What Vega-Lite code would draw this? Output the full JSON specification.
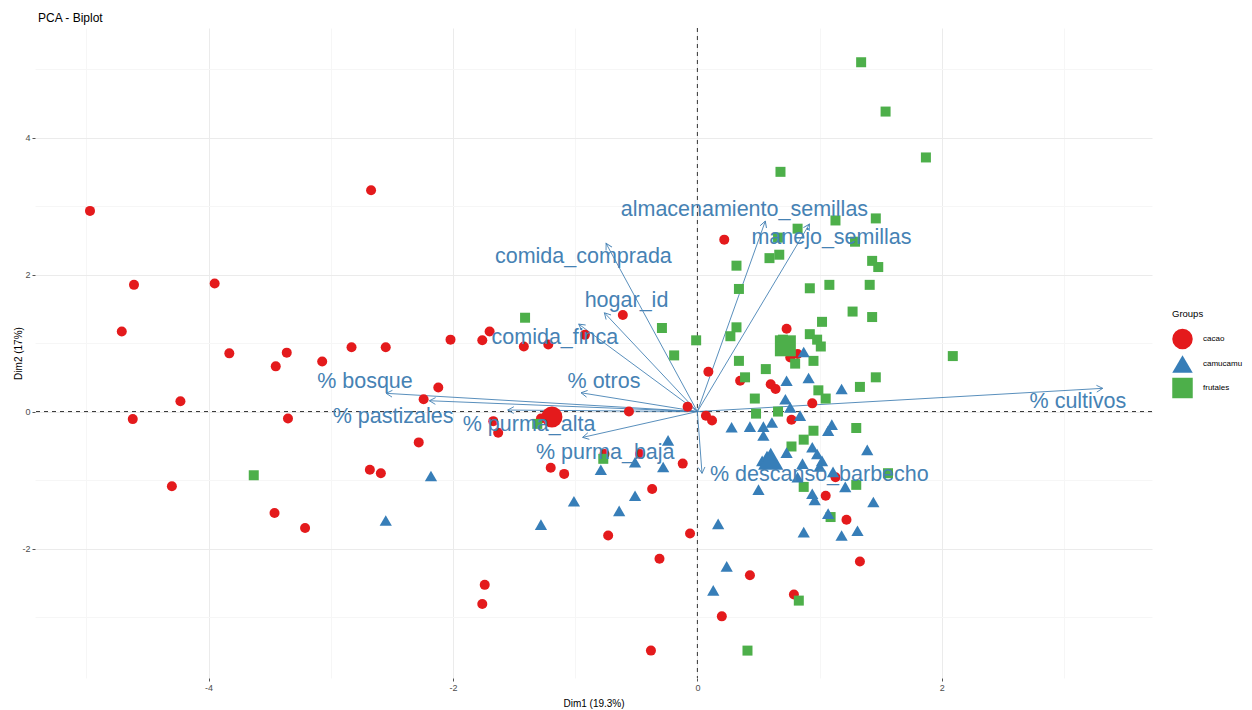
{
  "$schema": "https://vega.github.io/schema/vega-lite/v6.json",
  "autosize": {"type": "none"},
  "width": 1117,
  "height": 650,
  "padding": {"left": 35, "top": 28, "right": 100, "bottom": 32},
  "background": "white",
  "title": {"text": "PCA - Biplot", "anchor": "start", "frame": "group", "fontSize": 12, "fontWeight": "normal", "font": "Liberation Sans", "color": "#000000", "offset": 3, "dx": 3},
  "config": {
    "view": {"stroke": null},
    "font": "Liberation Sans",
    "axis": {"domain": false, "labelFont": "Liberation Sans", "titleFont": "Liberation Sans"}
  },
  "datasets": {
    "ind": [
      {"x": -4.97, "y": 2.93, "group": "cacao"},
      {"x": -2.67, "y": 3.23, "group": "cacao"},
      {"x": -4.61, "y": 1.85, "group": "cacao"},
      {"x": -3.95, "y": 1.87, "group": "cacao"},
      {"x": -4.71, "y": 1.17, "group": "cacao"},
      {"x": -3.83, "y": 0.85, "group": "cacao"},
      {"x": -3.45, "y": 0.66, "group": "cacao"},
      {"x": -3.36, "y": 0.86, "group": "cacao"},
      {"x": -3.07, "y": 0.73, "group": "cacao"},
      {"x": -2.83, "y": 0.94, "group": "cacao"},
      {"x": -2.55, "y": 0.94, "group": "cacao"},
      {"x": -2.02, "y": 1.05, "group": "cacao"},
      {"x": -2.12, "y": 0.35, "group": "cacao"},
      {"x": -2.24, "y": 0.18, "group": "cacao"},
      {"x": -4.23, "y": 0.15, "group": "cacao"},
      {"x": -4.62, "y": -0.11, "group": "cacao"},
      {"x": -3.35, "y": -0.10, "group": "cacao"},
      {"x": -2.28, "y": -0.45, "group": "cacao"},
      {"x": -2.68, "y": -0.85, "group": "cacao"},
      {"x": -2.59, "y": -0.90, "group": "cacao"},
      {"x": -4.30, "y": -1.09, "group": "cacao"},
      {"x": -3.46, "y": -1.48, "group": "cacao"},
      {"x": -3.21, "y": -1.70, "group": "cacao"},
      {"x": 0.22, "y": 2.51, "group": "cacao"},
      {"x": -0.61, "y": 1.41, "group": "cacao"},
      {"x": -1.70, "y": 1.17, "group": "cacao"},
      {"x": -1.76, "y": 1.04, "group": "cacao"},
      {"x": -1.42, "y": 0.95, "group": "cacao"},
      {"x": -1.22, "y": 0.98, "group": "cacao"},
      {"x": -0.92, "y": 1.12, "group": "cacao"},
      {"x": 0.09, "y": 0.58, "group": "cacao"},
      {"x": -0.08, "y": 0.07, "group": "cacao"},
      {"x": -0.56, "y": 0.00, "group": "cacao"},
      {"x": -1.63, "y": -0.31, "group": "cacao"},
      {"x": -1.67, "y": -0.14, "group": "cacao"},
      {"x": 0.07, "y": -0.06, "group": "cacao"},
      {"x": 0.12, "y": -0.13, "group": "cacao"},
      {"x": -0.76, "y": -0.62, "group": "cacao"},
      {"x": -0.47, "y": -0.62, "group": "cacao"},
      {"x": -0.12, "y": -0.76, "group": "cacao"},
      {"x": -1.20, "y": -0.82, "group": "cacao"},
      {"x": -1.09, "y": -0.91, "group": "cacao"},
      {"x": -0.37, "y": -1.13, "group": "cacao"},
      {"x": -0.73, "y": -1.81, "group": "cacao"},
      {"x": -0.06, "y": -1.78, "group": "cacao"},
      {"x": -0.31, "y": -2.15, "group": "cacao"},
      {"x": -1.74, "y": -2.53, "group": "cacao"},
      {"x": -1.76, "y": -2.81, "group": "cacao"},
      {"x": -0.38, "y": -3.49, "group": "cacao"},
      {"x": 0.43, "y": -2.39, "group": "cacao"},
      {"x": 0.79, "y": -2.67, "group": "cacao"},
      {"x": 0.20, "y": -2.99, "group": "cacao"},
      {"x": 1.05, "y": -1.23, "group": "cacao"},
      {"x": 1.22, "y": -1.58, "group": "cacao"},
      {"x": 1.33, "y": -2.19, "group": "cacao"},
      {"x": 1.13, "y": -0.96, "group": "cacao"},
      {"x": 0.73, "y": 1.21, "group": "cacao"},
      {"x": 0.76, "y": 0.79, "group": "cacao"},
      {"x": 0.82, "y": 0.84, "group": "cacao"},
      {"x": 0.35, "y": 0.45, "group": "cacao"},
      {"x": 0.60, "y": 0.40, "group": "cacao"},
      {"x": 0.64, "y": 0.33, "group": "cacao"},
      {"x": 0.94, "y": 0.12, "group": "cacao"},
      {"x": 0.77, "y": -0.12, "group": "cacao"},
      {"x": -1.28, "y": -0.10, "group": "cacao"},
      {"x": -2.18, "y": -0.94, "group": "camucamu"},
      {"x": -2.55, "y": -1.59, "group": "camucamu"},
      {"x": 0.28, "y": -0.23, "group": "camucamu"},
      {"x": -0.24, "y": -0.42, "group": "camucamu"},
      {"x": -0.79, "y": -0.85, "group": "camucamu"},
      {"x": -0.51, "y": -0.74, "group": "camucamu"},
      {"x": -0.28, "y": -0.81, "group": "camucamu"},
      {"x": -1.01, "y": -1.31, "group": "camucamu"},
      {"x": -0.51, "y": -1.23, "group": "camucamu"},
      {"x": -0.64, "y": -1.45, "group": "camucamu"},
      {"x": -1.28, "y": -1.65, "group": "camucamu"},
      {"x": 0.17, "y": -1.64, "group": "camucamu"},
      {"x": 0.24, "y": -2.26, "group": "camucamu"},
      {"x": 0.13, "y": -2.61, "group": "camucamu"},
      {"x": 0.87, "y": -1.76, "group": "camucamu"},
      {"x": 1.18, "y": -1.81, "group": "camucamu"},
      {"x": 1.31, "y": -1.74, "group": "camucamu"},
      {"x": 1.44, "y": -1.32, "group": "camucamu"},
      {"x": 1.39, "y": -0.56, "group": "camucamu"},
      {"x": 0.73, "y": 0.45, "group": "camucamu"},
      {"x": 0.91, "y": 0.49, "group": "camucamu"},
      {"x": 0.87, "y": 0.87, "group": "camucamu"},
      {"x": 1.18, "y": 0.33, "group": "camucamu"},
      {"x": 0.72, "y": 0.18, "group": "camucamu"},
      {"x": 0.76, "y": 0.06, "group": "camucamu"},
      {"x": 0.84, "y": -0.06, "group": "camucamu"},
      {"x": 0.43, "y": -0.22, "group": "camucamu"},
      {"x": 0.54, "y": -0.22, "group": "camucamu"},
      {"x": 0.61, "y": -0.16, "group": "camucamu"},
      {"x": 0.54, "y": -0.35, "group": "camucamu"},
      {"x": 1.07, "y": -0.28, "group": "camucamu"},
      {"x": 1.10, "y": -0.19, "group": "camucamu"},
      {"x": 0.73, "y": -0.60, "group": "camucamu"},
      {"x": 0.94, "y": -0.52, "group": "camucamu"},
      {"x": 0.98, "y": -0.62, "group": "camucamu"},
      {"x": 0.53, "y": -0.72, "group": "camucamu"},
      {"x": 0.62, "y": -0.76, "group": "camucamu"},
      {"x": 0.86, "y": -0.76, "group": "camucamu"},
      {"x": 1.02, "y": -0.72, "group": "camucamu"},
      {"x": 1.11, "y": -0.88, "group": "camucamu"},
      {"x": 0.82, "y": -0.96, "group": "camucamu"},
      {"x": 1.21, "y": -1.10, "group": "camucamu"},
      {"x": 0.50, "y": -1.14, "group": "camucamu"},
      {"x": 0.94, "y": -1.20, "group": "camucamu"},
      {"x": 0.96, "y": -1.29, "group": "camucamu"},
      {"x": 1.07, "y": -1.49, "group": "camucamu"},
      {"x": 1.00, "y": -0.80, "group": "camucamu"},
      {"x": 0.57, "y": -0.65, "group": "camucamu"},
      {"x": -3.63, "y": -0.93, "group": "frutales"},
      {"x": -1.41, "y": 1.37, "group": "frutales"},
      {"x": -0.29, "y": 1.22, "group": "frutales"},
      {"x": -0.01, "y": 1.04, "group": "frutales"},
      {"x": -0.19, "y": 0.82, "group": "frutales"},
      {"x": 0.32, "y": 2.13, "group": "frutales"},
      {"x": 0.34, "y": 1.79, "group": "frutales"},
      {"x": 0.32, "y": 1.23, "group": "frutales"},
      {"x": 0.27, "y": 1.10, "group": "frutales"},
      {"x": 0.34, "y": 0.74, "group": "frutales"},
      {"x": -1.31, "y": -0.18, "group": "frutales"},
      {"x": -0.77, "y": -0.69, "group": "frutales"},
      {"x": 0.41, "y": -3.49, "group": "frutales"},
      {"x": 0.83, "y": -2.76, "group": "frutales"},
      {"x": 1.30, "y": -0.24, "group": "frutales"},
      {"x": 1.30, "y": -1.07, "group": "frutales"},
      {"x": 1.27, "y": 1.46, "group": "frutales"},
      {"x": 1.43, "y": 1.38, "group": "frutales"},
      {"x": 1.02, "y": 1.31, "group": "frutales"},
      {"x": 0.92, "y": 1.13, "group": "frutales"},
      {"x": 0.98, "y": 1.05, "group": "frutales"},
      {"x": 1.01, "y": 0.95, "group": "frutales"},
      {"x": 0.80, "y": 0.70, "group": "frutales"},
      {"x": 0.95, "y": 0.74, "group": "frutales"},
      {"x": 0.56, "y": 0.62, "group": "frutales"},
      {"x": 0.39, "y": 0.50, "group": "frutales"},
      {"x": 1.46, "y": 0.50, "group": "frutales"},
      {"x": 1.33, "y": 0.36, "group": "frutales"},
      {"x": 0.99, "y": 0.31, "group": "frutales"},
      {"x": 1.05, "y": 0.19, "group": "frutales"},
      {"x": 0.47, "y": 0.19, "group": "frutales"},
      {"x": 0.48, "y": -0.03, "group": "frutales"},
      {"x": 0.66, "y": 0.00, "group": "frutales"},
      {"x": 0.95, "y": -0.28, "group": "frutales"},
      {"x": 0.87, "y": -0.41, "group": "frutales"},
      {"x": 0.77, "y": -0.51, "group": "frutales"},
      {"x": 0.87, "y": -1.10, "group": "frutales"},
      {"x": 1.56, "y": -0.90, "group": "frutales"},
      {"x": 1.09, "y": -1.54, "group": "frutales"},
      {"x": 2.09, "y": 0.81, "group": "frutales"},
      {"x": 1.34, "y": 5.10, "group": "frutales"},
      {"x": 1.54, "y": 4.38, "group": "frutales"},
      {"x": 1.87, "y": 3.71, "group": "frutales"},
      {"x": 0.68, "y": 3.50, "group": "frutales"},
      {"x": 1.13, "y": 2.79, "group": "frutales"},
      {"x": 1.46, "y": 2.82, "group": "frutales"},
      {"x": 0.82, "y": 2.67, "group": "frutales"},
      {"x": 0.66, "y": 2.54, "group": "frutales"},
      {"x": 1.29, "y": 2.48, "group": "frutales"},
      {"x": 1.43, "y": 2.20, "group": "frutales"},
      {"x": 1.48, "y": 2.11, "group": "frutales"},
      {"x": 0.59, "y": 2.24, "group": "frutales"},
      {"x": 0.67, "y": 2.29, "group": "frutales"},
      {"x": 0.92, "y": 1.80, "group": "frutales"},
      {"x": 1.08, "y": 1.85, "group": "frutales"},
      {"x": 1.41, "y": 1.85, "group": "frutales"},
      {"x": 0.70, "y": 1.05, "group": "frutales"},
      {"x": 0.75, "y": 0.90, "group": "frutales"}
    ],
    "cent": [
      {"x": -1.19, "y": -0.08, "group": "cacao"},
      {"x": 0.60, "y": -0.69, "group": "camucamu"},
      {"x": 0.72, "y": 0.96, "group": "frutales"}
    ],
    "vars": [
      {"name": "comida_comprada", "x": -0.747, "y": 2.455, "lx": -0.933, "ly": 2.25},
      {"name": "hogar_id", "x": -0.761, "y": 1.442, "lx": -0.58, "ly": 1.62},
      {"name": "comida_finca", "x": -0.971, "y": 1.277, "lx": -1.166, "ly": 1.07},
      {"name": "% otros", "x": -0.952, "y": 0.274, "lx": -0.764, "ly": 0.435},
      {"name": "% purma_alta", "x": -1.552, "y": 0.022, "lx": -1.377, "ly": -0.197},
      {"name": "% purma_baja", "x": -0.939, "y": -0.377, "lx": -0.754, "ly": -0.61},
      {"name": "% bosque", "x": -2.547, "y": 0.266, "lx": -2.72, "ly": 0.435},
      {"name": "% pastizales", "x": -2.193, "y": 0.158, "lx": -2.49, "ly": -0.076},
      {"name": "almacenamiento_semillas", "x": 0.556, "y": 2.781, "lx": 0.385, "ly": 2.95},
      {"name": "manejo_semillas", "x": 0.917, "y": 2.737, "lx": 1.097, "ly": 2.53},
      {"name": "% descanso_barbecho", "x": 0.038, "y": -0.902, "lx": 0.998, "ly": -0.927},
      {"name": "% cultivos", "x": 3.317, "y": 0.339, "lx": 3.114, "ly": 0.143}
    ]
  },
  "data": {"name": "vars"},
  "layer": [
    {
      "mark": {"type": "point", "opacity": 0, "size": 1},
      "encoding": {
        "x": {"field": "x", "type": "quantitative", "scale": {"domain": [-5.42, 3.72], "nice": false, "zero": false},
          "axis": {
            "title": "Dim1 (19.3%)", "titleFontSize": 10, "titleFontWeight": "normal", "titleColor": "#000000", "titlePadding": 6,
            "values": [-5, -4, -3, -2, -1, 0, 1, 2, 3],
            "labelExpr": "datum.value % 2 === 0 ? '' + datum.value : ''",
            "labelFontSize": 9, "labelColor": "#4d4d4d", "labelPadding": 2,
            "tickSize": 3, "tickColor": "#555555",
            "tickOpacity": {"condition": {"test": "datum.value % 2 !== 0", "value": 0}, "value": 1},
            "grid": true,
            "gridColor": {"condition": {"test": "datum.value % 2 !== 0", "value": "#f6f6f6"}, "value": "#ebebeb"}
          }},
        "y": {"field": "y", "type": "quantitative", "scale": {"domain": [-3.89, 5.6], "nice": false, "zero": false},
          "axis": {
            "title": "Dim2 (17%)", "titleFontSize": 10, "titleFontWeight": "normal", "titleColor": "#000000", "titleX": -12,
            "values": [-3, -2, -1, 0, 1, 2, 3, 4, 5],
            "labelExpr": "datum.value % 2 === 0 ? '' + datum.value : ''",
            "labelFontSize": 9, "labelColor": "#4d4d4d", "labelPadding": 2,
            "tickSize": 3, "tickColor": "#555555",
            "tickOpacity": {"condition": {"test": "datum.value % 2 !== 0", "value": 0}, "value": 1},
            "grid": true,
            "gridColor": {"condition": {"test": "datum.value % 2 !== 0", "value": "#f6f6f6"}, "value": "#ebebeb"}
          }}
      }
    },
    {
      "data": {"values": [{}]},
      "mark": {"type": "rule", "color": "#333333", "strokeDash": [4, 4], "strokeWidth": 1},
      "encoding": {"x": {"datum": 0, "type": "quantitative"}}
    },
    {
      "data": {"values": [{}]},
      "mark": {"type": "rule", "color": "#333333", "strokeDash": [4, 4], "strokeWidth": 1},
      "encoding": {"y": {"datum": 0, "type": "quantitative"}}
    },
    {
      "mark": {"type": "rule", "color": "#4682B4", "strokeWidth": 0.9},
      "encoding": {
        "x": {"field": "x", "type": "quantitative"},
        "y": {"field": "y", "type": "quantitative"},
        "x2": {"datum": 0},
        "y2": {"datum": 0}
      }
    },
    {
      "transform": [{"calculate": "atan2(datum.x * 122.2, datum.y * 68.5) * 180 / PI", "as": "ang"}],
      "mark": {"type": "point", "shape": "M -0.55 1 L 0 0 L 0.55 1", "filled": false, "color": "#4682B4", "strokeWidth": 0.9, "size": 150, "opacity": 1},
      "encoding": {
        "x": {"field": "x", "type": "quantitative"},
        "y": {"field": "y", "type": "quantitative"},
        "angle": {"field": "ang", "type": "quantitative", "scale": null}
      }
    },
    {
      "data": {"name": "ind"},
      "transform": [{"filter": "datum.group !== 'camucamu'"}],
      "mark": {"type": "point", "filled": true, "opacity": 1, "size": 100},
      "encoding": {
        "x": {"field": "x", "type": "quantitative"},
        "y": {"field": "y", "type": "quantitative"},
        "color": {"field": "group", "type": "nominal",
          "scale": {"domain": ["cacao", "camucamu", "frutales"], "range": ["#E41A1C", "#377EB8", "#4DAF4A"]},
          "legend": {"title": "Groups", "orient": "none", "legendX": 1137, "legendY": 281, "titleFontSize": 9.5, "titleFontWeight": "normal", "titleColor": "#000000", "titlePadding": 10, "labelFontSize": 8, "labelColor": "#000000", "symbolSize": 420, "rowPadding": 4, "labelOffset": 10, "symbolStrokeWidth": 0, "symbolOpacity": 1}},
        "shape": {"field": "group", "type": "nominal",
          "scale": {"domain": ["cacao", "camucamu", "frutales"], "range": ["circle", "triangle-up", "square"]},
          "legend": {"title": "Groups", "orient": "none", "legendX": 1137, "legendY": 281, "titleFontSize": 9.5, "titleFontWeight": "normal", "titleColor": "#000000", "titlePadding": 10, "labelFontSize": 8, "labelColor": "#000000", "symbolSize": 420, "rowPadding": 4, "labelOffset": 10, "symbolStrokeWidth": 0, "symbolOpacity": 1}}
      }
    },
    {
      "data": {"name": "ind"},
      "transform": [{"filter": "datum.group === 'camucamu'"}],
      "mark": {"type": "point", "filled": true, "opacity": 1, "size": 150},
      "encoding": {
        "x": {"field": "x", "type": "quantitative"},
        "y": {"field": "y", "type": "quantitative"},
        "color": {"field": "group", "type": "nominal"},
        "shape": {"field": "group", "type": "nominal"}
      }
    },
    {
      "data": {"name": "cent"},
      "transform": [{"filter": "datum.group !== 'camucamu'"}],
      "mark": {"type": "point", "filled": true, "opacity": 1, "size": 440},
      "encoding": {
        "x": {"field": "x", "type": "quantitative"},
        "y": {"field": "y", "type": "quantitative"},
        "color": {"field": "group", "type": "nominal"},
        "shape": {"field": "group", "type": "nominal"}
      }
    },
    {
      "data": {"name": "cent"},
      "transform": [{"filter": "datum.group === 'camucamu'"}],
      "mark": {"type": "point", "filled": true, "opacity": 1, "size": 640},
      "encoding": {
        "x": {"field": "x", "type": "quantitative"},
        "y": {"field": "y", "type": "quantitative"},
        "color": {"field": "group", "type": "nominal"},
        "shape": {"field": "group", "type": "nominal"}
      }
    },
    {
      "mark": {"type": "text", "font": "Liberation Sans", "fontSize": 21.5, "color": "#4682B4", "align": "center", "baseline": "middle"},
      "encoding": {
        "x": {"field": "lx", "type": "quantitative"},
        "y": {"field": "ly", "type": "quantitative"},
        "text": {"field": "name"}
      }
    }
  ]
}
